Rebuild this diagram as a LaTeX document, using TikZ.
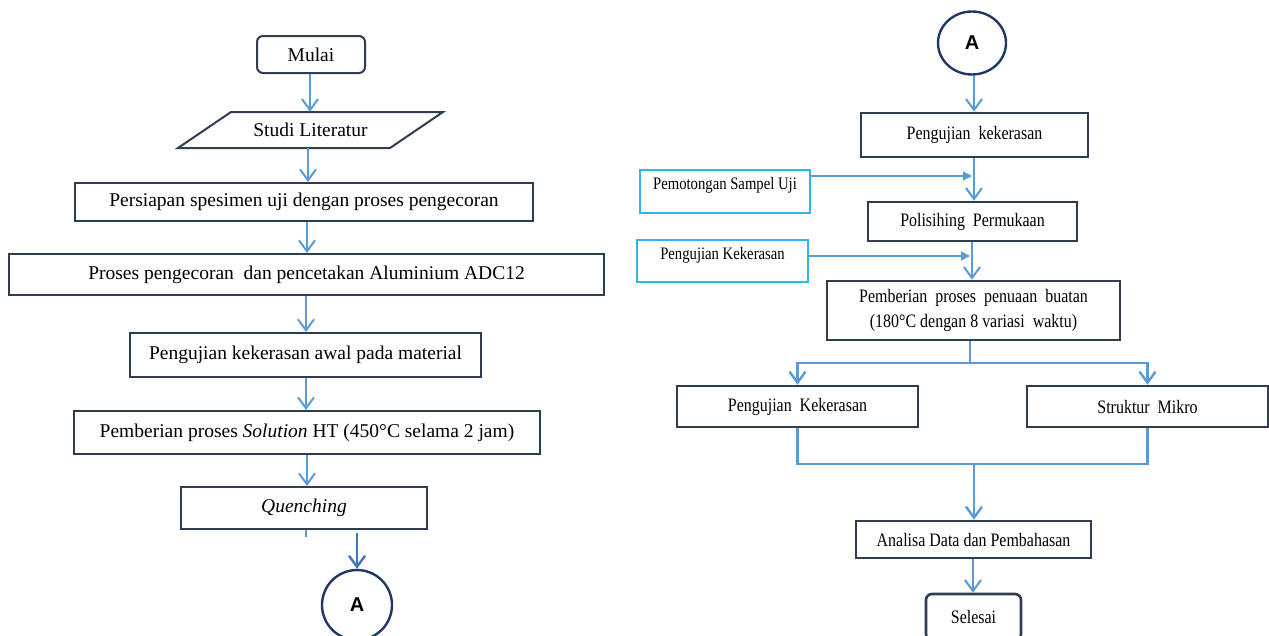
\documentclass[tikz,border=0pt]{standalone}
\usepackage{fontspec}
\setmainfont{Liberation Serif}
\newfontfamily\condfont[FakeStretch=0.84]{Liberation Serif}
\newfontfamily\labfont{Liberation Sans}
\usetikzlibrary{arrows.meta,shapes.geometric,calc}
\definecolor{boxline}{HTML}{2F3D52}
\definecolor{arrblue}{HTML}{5B9BD5}
\definecolor{cyanline}{HTML}{2DB5EC}
\definecolor{navy}{HTML}{1F3864}
\definecolor{darkarr}{HTML}{4472C4}
\begin{document}
\begin{tikzpicture}[x=1pt,y=-1pt,
  lbox/.style={draw=boxline, line width=2pt, inner sep=0pt, font=\fontsize{19.5}{23}\selectfont},
  rbox/.style={draw=boxline, line width=2.6pt, inner sep=0pt, align=center, font=\condfont\fontsize{19}{25}\selectfont},
  cbox/.style={draw=cyanline, line width=1.6pt, inner xsep=0pt, inner ysep=3pt, font=\condfont\fontsize{17.5}{21}\selectfont},
  conn/.style={arrblue, line width=2pt},
  arr/.style={arrblue, line width=2pt, -{Straight Barb[length=11pt,width=16pt]}},
  sidearr/.style={arrblue, line width=1.4pt, -{Triangle[length=9pt,width=9pt]}},
  conncirc/.style={draw=navy, line width=2.4pt, ellipse, inner sep=0pt, font=\labfont\bfseries\fontsize{20}{24}\selectfont}
]
\useasboundingbox (0,0) rectangle (1269,635);
\fill[white] (0,0) rectangle (1269,635);

% ---------- left column ----------
\node[lbox, rounded corners=6pt, minimum width=108pt, minimum height=37pt] (mulai) at (311,54.5) {Mulai};
\node[inner sep=0pt, minimum width=212pt, minimum height=36pt, font=\fontsize{19.5}{23}\selectfont] (studi) at (310.5,130) {Studi Literatur};
\draw[boxline, line width=2pt, line join=miter] (231,112) -- (443,112) -- (390,148) -- (178,148) -- cycle;
\node[lbox, minimum width=458pt, minimum height=38pt] (persiapan) at (304,202) {Persiapan spesimen uji dengan proses pengecoran};
\node[lbox, minimum width=595pt, minimum height=41pt] (proses) at (306.5,274.5) {Proses pengecoran\ \ dan pencetakan Aluminium ADC12};
\node[lbox, minimum width=351pt, minimum height=44pt] (awal) at (305.5,355) {Pengujian kekerasan awal pada material};
\node[lbox, minimum width=466pt, minimum height=43pt] (solution) at (307,432.5) {Pemberian proses \textit{Solution} HT (450°C selama 2 jam)};
\node[lbox, minimum width=246pt, minimum height=42pt] (quench) at (304,508) {\textit{Quenching}};
\node[conncirc, minimum width=70pt, minimum height=70pt] (aL) at (357,605) {A};

\draw[arr] (mulai.south -| 310,0) -- (studi.north -| 310,0);
\draw[arr] (studi.south -| 308,0) -- (persiapan.north -| 308,0);
\draw[arr] (persiapan.south -| 307,0) -- (proses.north -| 307,0);
\draw[arr] (proses.south -| 306,0) -- (awal.north -| 306,0);
\draw[arr] (awal.south -| 306,0) -- (solution.north -| 306,0);
\draw[arr] (solution.south -| 307,0) -- (quench.north -| 307,0);
\coordinate (qtick) at (306,537);
\draw[conn, line width=1.6pt] (quench.south -| qtick) -- (qtick);
\coordinate (aLin) at (357,533);
\draw[darkarr, line width=2.4pt, -{Straight Barb[length=11pt,width=16pt]}] (aLin) -- (aL.north);

% ---------- right column ----------
\node[conncirc, minimum width=68pt, minimum height=63pt] (aR) at (972,43) {A};
\node[rbox, minimum width=227pt, minimum height=44pt] (kek1) at (974.5,135) {Pengujian\ \ kekerasan};
\node[rbox, minimum width=209pt, minimum height=39pt] (pol) at (972.5,221.5) {Polisihing\ \ Permukaan};
\node[rbox, minimum width=293pt, minimum height=59pt] (penuaan) at (973.5,310.5) {Pemberian\ \ proses\ \ penuaan\ \ buatan\\(180°C dengan 8 variasi\ \ waktu)};
\node[rbox, minimum width=241pt, minimum height=41pt] (pk) at (797.5,406.5) {Pengujian\ \ Kekerasan};
\node[rbox, minimum width=241pt, minimum height=41pt] (sm) at (1147.5,406.5) {Struktur\ \ Mikro};
\node[rbox, minimum width=235pt, minimum height=37pt] (analisa) at (973.5,539.5) {Analisa Data dan Pembahasan};
\node[rbox, rounded corners=6pt, minimum width=95pt, minimum height=46pt] (selesai) at (973.5,617) {Selesai};
\node[cbox, minimum width=170pt, text height=16pt, text depth=21pt] (cyan1) at (725,191.5) {Pemotongan Sampel Uji};
\node[cbox, minimum width=171pt, text height=16pt, text depth=20pt] (cyan2) at (722.5,261) {Pengujian Kekerasan};

\draw[arr] (aR.south -| 974,0) -- (kek1.north -| 974,0);
\draw[arr] (kek1.south -| 974,0) -- (pol.north -| 974,0);
\draw[arr] (pol.south -| 972,0) -- (penuaan.north -| 972,0);
\coordinate (s1) at (972,176);
\coordinate (s2) at (970,256);
\draw[sidearr] (cyan1.east |- s1) -- (s1);
\draw[sidearr] (cyan2.east |- s2) -- (s2);
\coordinate (br) at (970,363);
\draw[conn, line width=2.4pt] (penuaan.south -| br) -- (br);
\draw[arr, line width=2.4pt] (br) -| (pk.north);
\draw[arr, line width=2.4pt] (br) -| (sm.north);
\coordinate (jn) at (974,464);
\draw[conn, line width=2.4pt] (pk.south) |- (jn);
\draw[conn, line width=2.4pt] (sm.south) |- (jn);
\draw[arr, line width=2.4pt] (jn) -- (jn |- analisa.north);
\draw[arr] (analisa.south -| 973,0) -- (selesai.north -| 973,0);
\end{tikzpicture}
\end{document}
